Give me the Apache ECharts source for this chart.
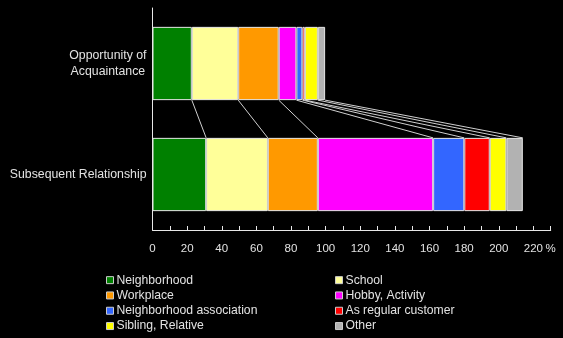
<!DOCTYPE html>
<html>
<head>
<meta charset="utf-8">
<script src="https://cdn.jsdelivr.net/npm/echarts@6/dist/echarts.min.js"></script>
<style>
  html, body { margin: 0; padding: 0; background: #000; }
  #chart { width: 563px; height: 338px; }
</style>
</head>
<body>
<div id="chart"></div>
<script>
// Categories (top to bottom)
const categories = ['Opportunity of\nAcquaintance', 'Subsequent Relationship'];

// Series values (%), one entry per category
const neighborhood = [22.7, 31.0];
const school = [26.8, 35.6];
const workplace = [23.4, 28.9];
const hobbyActivity = [10.2, 66.6];
const neighborhoodAssociation = [3.5, 18.0];
const regularCustomer = [1.4, 14.7];
const siblingRelative = [7.5, 9.6];
const other = [4.2, 9.5];

const seriesNames = [
  'Neighborhood', 'School', 'Workplace', 'Hobby, Activity',
  'Neighborhood association', 'As regular customer', 'Sibling, Relative', 'Other'
];
const seriesValues = [
  neighborhood, school, workplace, hobbyActivity,
  neighborhoodAssociation, regularCustomer, siblingRelative, other
];
const colors = ['#008000', '#FFFF99', '#FF9900', '#FF00FF', '#3366FF', '#FF0000', '#FFFF00', '#B2B2B2'];

// x-axis range and tick labels
const xMin = 0, xMax = 230, xStep = 10;
const xTickLabels = ['0', '20', '40', '60', '80', '100', '120', '140', '160', '180', '200', '220'];
const unitLabel = '%';

const textColor = '#e2e2e2';
const lineColor = '#e8e8e8';
const fontFamily = 'Liberation Sans, Arial, sans-serif';
const BAR_RATIO = 0.66;

// Running totals at each segment boundary, used for the series lines
const cumulative = categories.map((_, ci) => {
  let s = 0;
  return seriesValues.map(v => (s += v[ci]));
});
const seriesLineData = seriesValues.map((_, si) => [cumulative[0][si], cumulative[1][si]]);

const chart = echarts.init(document.getElementById('chart'), null, { renderer: 'canvas' });

const barSeries = seriesNames.map((name, i) => ({
  name: name,
  type: 'bar',
  stack: 'total',
  barWidth: (BAR_RATIO * 100) + '%',
  data: seriesValues[i],
  itemStyle: { color: colors[i], borderColor: '#e6e6e6', borderWidth: 1 },
  emphasis: { disabled: true },
  z: 3
}));

// Lines joining matching segment edges of the two bars
const linesSeries = {
  type: 'custom',
  name: '__lines',
  coordinateSystem: 'cartesian2d',
  data: seriesLineData,
  encode: { x: [0, 1] },
  silent: true,
  z: 2,
  renderItem: function (params, api) {
    const band = api.size([0, 1])[1];
    const half = band * BAR_RATIO / 2;
    const p1 = api.coord([api.value(0), 0]);
    const p2 = api.coord([api.value(1), 1]);
    return {
      type: 'line',
      shape: { x1: p1[0], y1: p1[1] + half, x2: p2[0], y2: p2[1] - half },
      style: { stroke: '#d0d0d0', lineWidth: 1 }
    };
  }
};

const legendCommon = {
  orient: 'vertical',
  padding: 0,
  height: 65,
  itemWidth: 7,
  itemHeight: 7,
  itemGap: 1,
  icon: 'rect',
  itemStyle: { borderColor: '#cccccc', borderWidth: 1 },
  textStyle: { color: textColor, fontSize: 12.2, fontFamily: fontFamily, lineHeight: 14.3, padding: [0, 0, 0, -2] },
  top: 273,
  selectedMode: false
};

chart.setOption({
  backgroundColor: '#000000',
  animation: false,
  grid: { left: 152.5, right: 12.3, top: 8, bottom: 108, containLabel: false },
  legend: [
    Object.assign({}, legendCommon, { left: 106, data: [seriesNames[0], seriesNames[2], seriesNames[4], seriesNames[6]] }),
    Object.assign({}, legendCommon, { left: 335, data: [seriesNames[1], seriesNames[3], seriesNames[5], seriesNames[7]] })
  ],
  xAxis: {
    type: 'value',
    min: xMin,
    max: xMax,
    interval: xStep,
    axisLine: { show: true, lineStyle: { color: lineColor, width: 1 } },
    axisTick: { show: true, inside: true, length: 4, lineStyle: { color: lineColor } },
    splitLine: { show: false },
    axisLabel: {
      color: textColor,
      fontSize: 11.5,
      fontFamily: fontFamily,
      margin: 13,
      formatter: function (v) {
        if (v === xMax) return unitLabel;
        const i = xTickLabels.indexOf(String(v));
        return i >= 0 ? xTickLabels[i] : '';
      }
    }
  },
  yAxis: {
    type: 'category',
    inverse: true,
    data: categories,
    axisLine: { show: true, lineStyle: { color: lineColor, width: 1 } },
    axisTick: { show: false },
    axisLabel: {
      margin: 6,
      color: textColor,
      formatter: function (v) {
        return v.split('\n').map(s => '{c|' + s + '}').join('\n');
      },
      rich: {
        c: { align: 'center', color: textColor, fontSize: 12.3, lineHeight: 15.6, fontFamily: fontFamily }
      }
    }
  },
  series: barSeries.concat([linesSeries])
});
</script>
</body>
</html>
